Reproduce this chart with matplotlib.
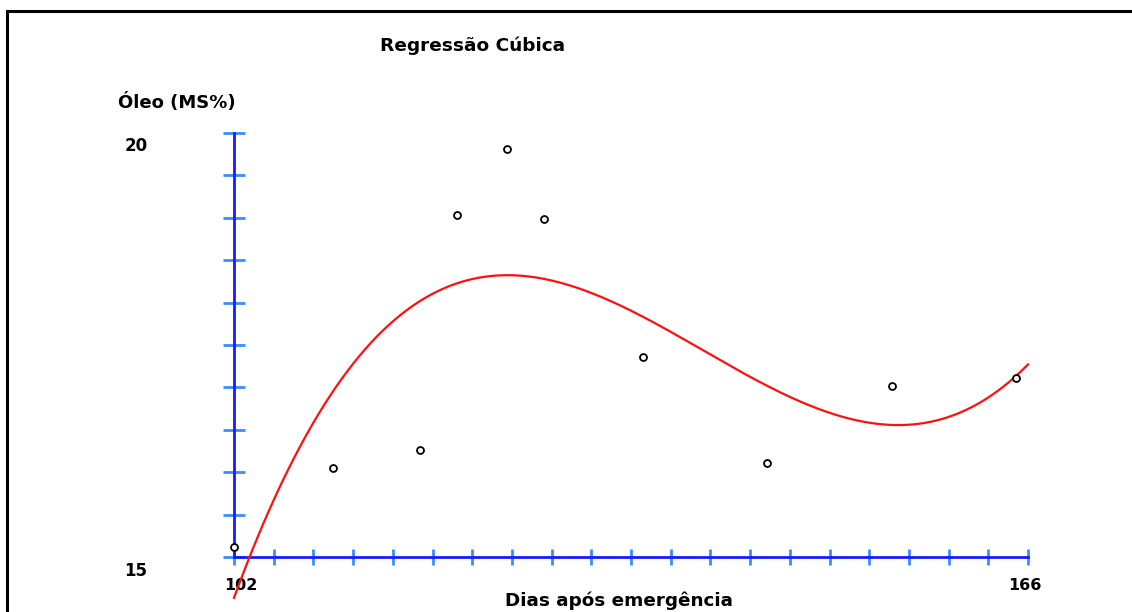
import numpy as np
import matplotlib
matplotlib.use("Agg")
import matplotlib.pyplot as plt
from matplotlib.patches import Rectangle

# ---- data ----
dias = [102, 110, 117, 120, 124, 127, 135, 145, 155, 165]
oleo = [15.12, 16.05, 16.26, 19.03, 19.81, 18.99, 17.36, 16.11, 17.02, 17.11]
x_range = [102, 166]
y_range = [15, 20]
title = "Regressão Cúbica"
ylabel = "Óleo (MS%)"
xlabel = "Dias após emergência"

W, H = 1132, 612
fig = plt.figure(figsize=(W / 100, H / 100), dpi=100)
ax = fig.add_axes([0, 0, 1, 1])

# pixel mapping
px0, px1 = 234, 1028
py0, py1 = 557, 133
sx = (px1 - px0) / (x_range[1] - x_range[0])
sy = (py0 - py1) / (y_range[1] - y_range[0])
ax.set_xlim(x_range[0] - px0 / sx, x_range[0] + (W - px0) / sx)
ax.set_ylim(y_range[0] - (H - py0) / sy, y_range[0] + py0 / sy)
ax.axis("off")

def P(xp, yp):
    return (x_range[0] + (xp - px0) / sx, y_range[0] + (py0 - yp) / sy)

# border
bx, by = P(7, 11)
ax.add_patch(Rectangle((bx, P(0, 700)[1]), 500, by - P(0, 700)[1],
                       fill=False, ec="black", lw=2.2, clip_on=False, zorder=1))

tick_col = "#3a8cff"
axis_col = "#1a1aff"
# ticks
xt = np.linspace(x_range[0], x_range[1], 21)
yt = np.linspace(y_range[0], y_range[1], 11)
hx = 11 / sx  # half tick length in data (x)
hy = 8 / sy
for v in yt:
    ax.plot([x_range[0] - hx, x_range[0] + hx], [v, v], color=tick_col, lw=2, zorder=2,
            solid_capstyle="butt")
for v in xt:
    ax.plot([v, v], [y_range[0] - hy, y_range[0] + hy], color=tick_col, lw=2, zorder=2,
            solid_capstyle="butt")
ax.plot([x_range[0], x_range[0]], y_range, color=axis_col, lw=2, zorder=3)
ax.plot(x_range, [y_range[0], y_range[0]], color=axis_col, lw=2, zorder=3)

# cubic regression
coef = np.polyfit(dias, oleo, 3)
xs = np.linspace(x_range[0], x_range[1], 400)
ax.plot(xs, np.polyval(coef, xs), color="#ff1010", lw=1.6, zorder=4)

# points
ax.plot(dias, oleo, "o", ms=5, mfc="white", mec="black", mew=1.3, zorder=5)

fnt = dict(family="DejaVu Sans", weight="bold", color="black")
ax.text(*P(473, 46), title, ha="center", va="center", fontsize=13.3, **fnt)
ax.text(*P(118, 102), ylabel, ha="left", va="center", fontsize=13, **fnt)
ax.text(*P(136, 146), "20", ha="center", va="center", fontsize=12, **fnt)
ax.text(*P(136, 571), "15", ha="center", va="center", fontsize=12, **fnt)
ax.text(*P(241, 586), "102", ha="center", va="center", fontsize=11.5, **fnt)
ax.text(*P(1025, 586), "166", ha="center", va="center", fontsize=11.5, **fnt)
ax.text(*P(619, 601), xlabel, ha="center", va="center", fontsize=13.2, **fnt)

fig.savefig("out.png", dpi=100)
